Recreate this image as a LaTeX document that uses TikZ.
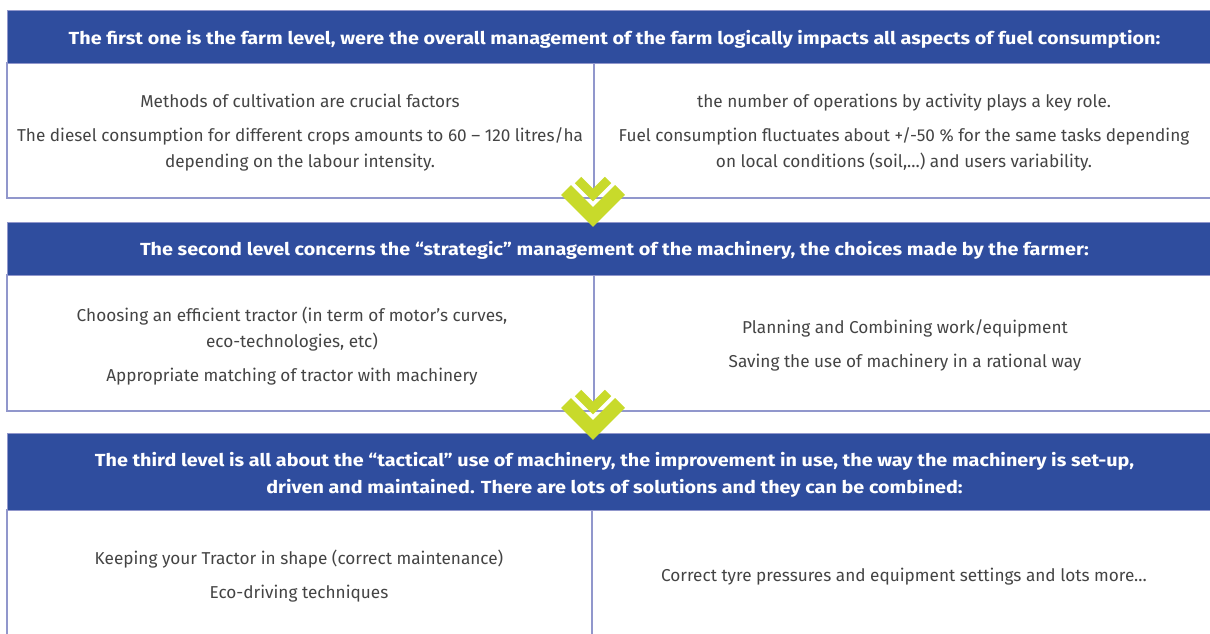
\documentclass[tikz,border=0pt]{standalone}
\usepackage{fontspec}
\setmainfont{Fira Sans}
\newfontfamily\hdrfont{Fira Sans}[FakeStretch=1.13]
\definecolor{hdrblue}{HTML}{2F4D9E}
\definecolor{edgecol}{HTML}{9197CC}
\definecolor{limecol}{HTML}{C8DA2B}
\definecolor{txtcol}{HTML}{444444}
\tikzset{
  hdr/.style={fill=hdrblue, draw=edgecol, line width=1pt, anchor=north west, minimum width=1214pt,
    inner sep=0pt, text=white, font=\hdrfont\bfseries\fontsize{17.5}{27}\selectfont, align=center},
  bodybox/.style={draw=edgecol, line width=1.5pt},
  divider/.style={draw=edgecol, line width=1.5pt},
  bodytxt/.style={text=txtcol, font=\fontsize{17.2}{26}\selectfont, align=center, inner sep=0pt},
  chevout/.style={draw=limecol, line width=14pt, line join=miter},
  chevin/.style={draw=limecol, line width=9pt, line join=miter}
}
\begin{document}
\begin{tikzpicture}[x=1pt,y=-1pt]
\useasboundingbox (0,0) rectangle (1210,634);
\clip (0,0) rectangle (1210,634);
\fill[white] (0,0) rectangle (1210,634);

% box bodies
\draw[bodybox] (7,63) rectangle (1220,198);
\draw[bodybox] (7,275) rectangle (1220,411);
\draw[bodybox] (7,510) rectangle (1220,650);

% headers
\node[hdr, minimum height=53pt] (h1) at (7,10) {\raisebox{-2pt}[\height][\depth]{The first one is the farm level, were the overall management of the farm logically impacts all aspects of fuel consumption:}};
\node[hdr, minimum height=53pt] (h2) at (7,222) {\raisebox{-1.5pt}[\height][\depth]{The second level concerns the “strategic” management of the machinery, the choices made by the farmer:}};
\node[hdr, minimum height=77pt] (h3) at (7,433) {\raisebox{-3pt}[\height][\depth]{\begin{tabular}{@{}c@{}}The third level is all about the “tactical” use of machinery, the improvement in use, the way the machinery is set-up,\\ driven and maintained. There are lots of solutions and they can be combined:\end{tabular}}};

% dividers
\coordinate (d1b) at (594,198);
\coordinate (d2b) at (594,411);
\coordinate (d3b) at (592,640);
\draw[divider] (h1.south -| d1b) -- (d1b);
\draw[divider] (h2.south -| d2b) -- (d2b);
\draw[divider] (h3.south -| d3b) -- (d3b);

% texts
\node[bodytxt] (t1l) at (300,133) {Methods of cultivation are crucial factors\\[8pt]
The diesel consumption for different crops amounts to 60 – 120 litres/ha\\ depending on the labour intensity.};
\node[bodytxt] (t1r) at (904,133) {the number of operations by activity plays a key role.\\[8pt]
Fuel consumption fluctuates about +/-50 \% for the same tasks depending\\ on local conditions (soil,…) and users variability.};
\node[bodytxt] (t2l) at (292,346.5) {Choosing an efficient tractor (in term of motor’s curves,\\ eco-technologies, etc)\\[8pt]
Appropriate matching of tractor with machinery};
\node[bodytxt] (t2r) at (905,345) {Planning and Combining work/equipment\\[8pt]
Saving the use of machinery in a rational way};
\node[bodytxt] (t3l) at (299,576) {Keeping your Tractor in shape (correct maintenance)\\[8pt]
Eco-driving techniques};
\node[bodytxt] (t3r) at (904,577) {Correct tyre pressures and equipment settings and lots more…};

% chevrons
\coordinate (c1) at (593,217);
\coordinate (c2) at (593,430);
\draw[chevout] ([shift={(-27,-27)}]c1) -- (c1) -- ([shift={(27,-27)}]c1);
\draw[chevin] ([shift={(-15,-37)}]c1) -- ([shift={(0,-22)}]c1) -- ([shift={(15,-37)}]c1);
\draw[chevout] ([shift={(-27,-27)}]c2) -- (c2) -- ([shift={(27,-27)}]c2);
\draw[chevin] ([shift={(-15,-37)}]c2) -- ([shift={(0,-22)}]c2) -- ([shift={(15,-37)}]c2);
\end{tikzpicture}
\end{document}
